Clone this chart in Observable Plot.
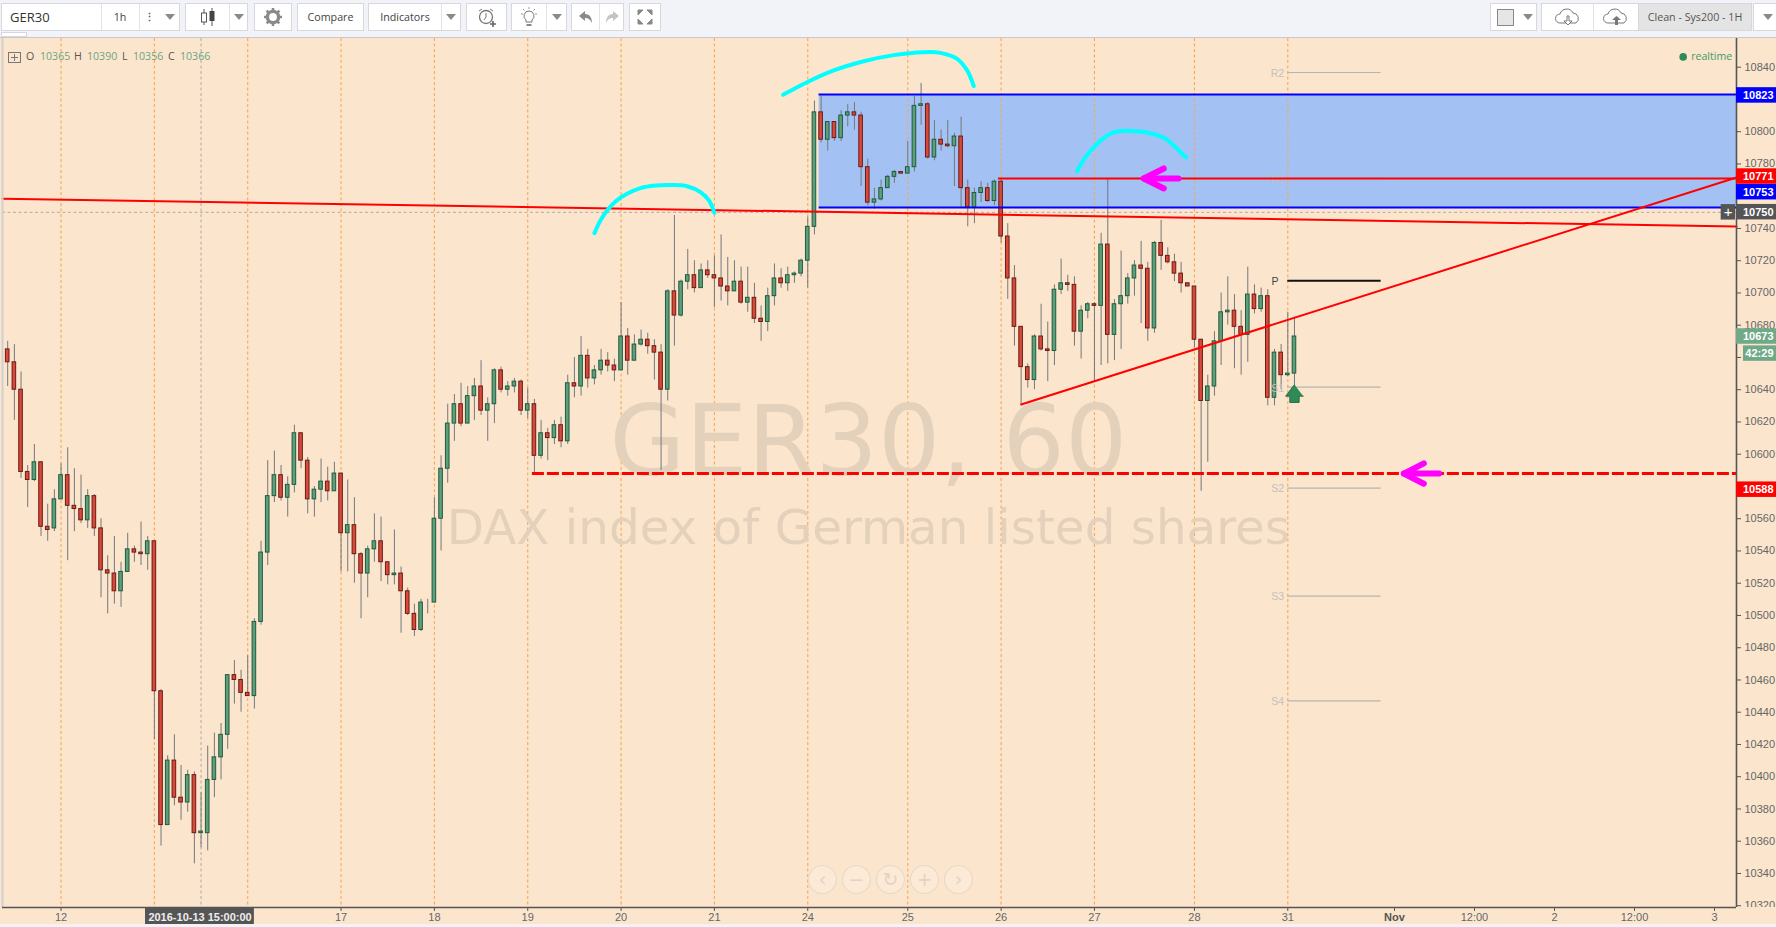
<!DOCTYPE html>
<html><head><meta charset="utf-8">
<script src="https://cdn.jsdelivr.net/npm/d3@7"></script>
<script src="https://cdn.jsdelivr.net/npm/@observablehq/plot@0.6"></script>
<style>
html,body{margin:0;padding:0;background:#f1f3f8;overflow:hidden;width:1776px;height:927px}
#bar{position:relative;height:37px;border-bottom:1px solid #c8cacd;background:#f1f3f8;font:10.7px "Open Sans",sans-serif;color:#444}
.b{position:absolute;top:3px;height:26px;background:#fff;border:1px solid #d6d8db;display:flex;align-items:center;justify-content:center;box-sizing:content-box}
.v{position:absolute;top:0;bottom:0;width:1px;background:#e2e3e5}
.tri{width:0;height:0;border-left:5px solid transparent;border-right:5px solid transparent;border-top:6px solid #8a8a8a}
#wrap{position:relative;width:1776px}
.ov{position:absolute;font:10.6px "Open Sans",sans-serif;white-space:nowrap}
svg.plot{display:block}
</style></head><body>
<div id="bar"></div>
<div id="wrap"></div>
<script>
// OHLC series, one value per hourly bar
const opens=[10665,10657,10640,10589,10584,10595,10555,10554,10572,10587,10568,10566,10559,10574,10554,10528,10526,10515,10527,10541,10539,10538,10546,10453,10370,10410,10387,10384,10401,10365,10365,10398,10412,10426,10463,10460,10452,10450,10496,10539,10574,10587,10573,10581,10613,10596,10572,10578,10583,10577,10588,10551,10556,10538,10526,10541,10546,10533,10525,10526,10515,10501,10491,10508,10508,10560,10591,10619,10631,10619,10636,10642,10627,10631,10652,10640,10642,10645,10627,10631,10599,10613,10610,10618,10608,10644,10642,10661,10647,10652,10658,10655,10652,10673,10658,10668,10671,10667,10663,10640,10701,10686,10707,10711,10703,10714,10711,10709,10704,10701,10707,10694,10697,10684,10682,10698,10709,10706,10711,10712,10720,10741,10812,10795,10806,10796,10810,10812,10810,10778,10756,10758,10765,10772,10775,10774,10778,10816,10817,10784,10795,10792,10791,10797,10765,10753,10762,10765,10757,10769,10735,10709,10679,10654,10646,10673,10665,10664,10702,10706,10705,10676,10689,10693,10692,10730,10674,10693,10698,10709,10717,10715,10678,10731,10723,10719,10712,10706,10704,10671,10633,10642,10670,10688,10689,10679,10674,10699,10690,10698,10635,10663,10649,10650];
const highs=[10670,10668,10651,10593,10606,10595,10569,10578,10594,10604,10591,10587,10578,10575,10560,10537,10549,10533,10551,10543,10558,10549,10546,10454,10413,10426,10407,10404,10403,10390,10419,10427,10433,10463,10472,10466,10475,10498,10546,10596,10602,10593,10586,10618,10613,10598,10580,10597,10592,10595,10588,10584,10573,10539,10543,10563,10561,10533,10553,10530,10517,10507,10510,10510,10573,10599,10631,10637,10644,10642,10647,10658,10635,10653,10654,10645,10647,10646,10641,10634,10621,10616,10621,10623,10649,10660,10673,10665,10655,10665,10663,10659,10694,10678,10674,10677,10675,10671,10668,10702,10748,10708,10727,10720,10718,10720,10723,10736,10722,10720,10716,10716,10706,10692,10703,10718,10715,10716,10713,10721,10747,10819,10822,10806,10806,10813,10817,10818,10812,10783,10765,10770,10773,10776,10775,10794,10822,10830,10818,10807,10801,10807,10799,10809,10770,10765,10769,10768,10770,10771,10743,10717,10679,10656,10674,10693,10682,10705,10721,10711,10710,10692,10694,10694,10737,10771,10696,10726,10712,10720,10732,10719,10732,10745,10728,10724,10719,10706,10704,10671,10649,10676,10700,10710,10699,10689,10716,10705,10703,10702,10665,10668,10688,10685];
const lows=[10642,10621,10585,10567,10583,10549,10546,10552,10572,10534,10552,10557,10554,10549,10511,10501,10507,10505,10527,10533,10531,10528,10423,10357,10370,10382,10373,10378,10346,10356,10354,10387,10398,10417,10445,10440,10450,10442,10494,10531,10570,10571,10561,10576,10591,10563,10561,10570,10571,10577,10527,10527,10520,10498,10511,10533,10521,10519,10519,10489,10500,10487,10490,10501,10508,10540,10582,10608,10617,10619,10621,10624,10608,10619,10638,10636,10638,10624,10622,10588,10597,10596,10606,10604,10606,10635,10636,10641,10643,10649,10651,10645,10652,10649,10658,10667,10662,10646,10590,10633,10667,10685,10702,10700,10703,10709,10691,10695,10692,10701,10693,10688,10681,10670,10676,10692,10703,10701,10706,10710,10703,10736,10793,10788,10794,10794,10803,10801,10766,10754,10752,10757,10765,10768,10774,10774,10775,10804,10783,10782,10788,10790,10766,10753,10741,10743,10756,10756,10754,10731,10696,10667,10631,10641,10640,10664,10645,10655,10699,10701,10667,10659,10684,10645,10655,10656,10658,10665,10693,10698,10681,10670,10675,10714,10718,10707,10700,10704,10666,10577,10595,10636,10655,10680,10653,10649,10657,10687,10688,10630,10630,10640,10648,10643];
const closes=[10657,10640,10589,10584,10595,10555,10553,10572,10587,10568,10566,10559,10574,10554,10528,10526,10515,10527,10541,10539,10538,10546,10453,10370,10410,10387,10384,10401,10365,10366,10398,10412,10426,10463,10460,10452,10450,10496,10539,10574,10587,10573,10581,10613,10596,10572,10578,10583,10577,10588,10551,10556,10538,10526,10541,10546,10533,10525,10526,10515,10501,10491,10508,10508,10560,10591,10619,10631,10619,10636,10642,10627,10631,10652,10640,10642,10645,10627,10631,10599,10613,10610,10618,10608,10644,10642,10661,10647,10652,10658,10655,10652,10673,10658,10668,10671,10667,10663,10640,10701,10686,10707,10711,10703,10714,10711,10709,10704,10701,10707,10694,10697,10684,10682,10698,10709,10706,10711,10712,10720,10741,10812,10795,10806,10796,10810,10812,10810,10778,10756,10758,10765,10772,10775,10774,10778,10816,10817,10784,10795,10792,10791,10797,10765,10753,10762,10765,10757,10769,10735,10709,10679,10654,10646,10673,10665,10664,10702,10706,10705,10676,10689,10693,10692,10730,10674,10693,10698,10709,10717,10715,10678,10731,10723,10719,10712,10706,10704,10671,10633,10642,10670,10688,10689,10679,10674,10699,10690,10698,10635,10663,10649,10650,10673];

// time axis: bar positions and their labels (13 and 14 sit behind the crosshair flag)
const dayBars=[8,22,36,50,64,78,92,106,120,135,149,163,178,192];
const dayLabels=["12","","","17","18","19","20","21","24","25","26","27","28","31"];
const futureBars=[208,220,232,244,256];
const futureLabels=["Nov","12:00","2","12:00","3"];
const crossBar=29, crossPrice=10750, crossLabel="2016-10-13 15:00:00";
const priceTicks=d3.range(10320,10841,20);
const coveredTicks=[10820,10760,10660,10580];

// drawn levels
const boxTop=10823, boxBottom=10753, boxStart=121.7, resistance=10771, resistanceStart=148.6, support=10588, supportStart=78.7;
const flatTrendI=[-0.78,259.3], flatTrendV=[10758.5,10741.2];
const riseTrendI=[152,259.3], riseTrendV=[10630.8,10771.6];
const pivotNames=["R2","R1","P","S1","S2","S3","S4"];
const pivotValues=[10836.7,10771,10707.5,10641.6,10579,10512,10447];

// hand-drawn cyan arcs
const arc1I=[88,88.9,89.9,91.2,92.9,94.9,97.2,99.4,101.9,103.9,105.2,106];
const arc1V=[10737.1,10744.9,10751.1,10756.9,10761.5,10765,10766.6,10766.9,10766.2,10762.5,10757.3,10749.7];
const arc2I=[116.3,119.9,123.9,128.4,132.9,137.4,139.9,142.4,143.9,144.9];
const arc2V=[10822.9,10830.7,10838,10843.7,10847.5,10849.3,10848.9,10845.2,10838,10828.2];
const arc3I=[160.4,161.65,163.15,164.9,166.4,168.4,170.9,173.4,174.9,176.15,176.75];
const arc3V=[10775.5,10784.2,10791.4,10797.6,10800.1,10800.5,10799.5,10796.2,10791.4,10786.3,10784];

// price flags on the right-hand axis
const flagTexts=["10823","10771","10753","10750","10588","10673","42:29"];
const flagCentres=[10822.5,10772.2,10762.5,10750.1,10578,10673,10662.4];
const flagFills=["#0000ff","#ff0000","#0000ff","#555555","#ff0000","#6fa987","#6fa987"];
const flagStarts=[259.3,259.3,259.3,259.3,259.3,259.3,260.35];

const bg="#fce5cd", xEnd=259.3, xEdge=265.3;
const bars=opens.map((o,i)=>({i,o,h:highs[i],l:lows[i],c:closes[i],up:closes[i]>=o}));
const seq=(xs,ys,k)=>xs.map((x,j)=>({x,y:ys[j],k}));
const arcs=[...seq(arc1I,arc1V,"a"),...seq(arc2I,arc2V,"b"),...seq(arc3I,arc3V,"c")];
const arrows=[
  ...seq([173.4,170.4,173.4],[10777.2,10771,10764.8],"a1"),
  ...seq([170.4,175.6],[10771,10771],"a2"),
  ...seq([212.4,209.4,212.4],[10594.3,10588,10581.7],"b1"),
  ...seq([209.4,214.7],[10588,10588],"b2")];
const upArrow=seq([193,191.68,192.3,192.3,193.7,193.7,194.32],[10643.2,10636,10636,10632.1,10632.1,10636,10636],"g");
const navI=[122.2,127.3,132.4,137.5,142.6], navGlyphs=["‹","−","↻","+","›"], navPrice=10336.3;

const axisFont={fontFamily:'"Liberation Sans",Arial,sans-serif',fontSize:11};
const chart=Plot.plot({
  width:1776,height:886,marginTop:0,marginBottom:17,marginLeft:2,marginRight:40,
  style:{background:bg,fontFamily:'"Liberation Sans",Arial,sans-serif',fontSize:"11px",maxWidth:"none"},
  x:{type:"linear",domain:[-0.78,xEnd]},
  y:{type:"linear",domain:[10318.9,10857.8]},
  marks:[
    Plot.rect([0],{x1:boxStart,x2:xEnd,y1:boxBottom,y2:boxTop,fill:"#a3c1f3"}),
    Plot.ruleX(dayBars,{stroke:"#f6a955",strokeDasharray:"3,2.5",strokeWidth:1.1}),
    Plot.ruleX([crossBar],{stroke:"#aaaaaa",strokeDasharray:"3,2.5"}),
    Plot.ruleY([crossPrice],{stroke:"#b3aba0",strokeDasharray:"3,2.5"}),
    Plot.text(["GER30, 60"],{x:129.1,y:10606.8,text:d=>d,fontSize:98,fontFamily:'"DejaVu Sans"',fill:"#e4d1bc"}),
    Plot.text(["DAX index of German listed shares"],{x:129.1,y:10554,text:d=>d,fontSize:48.4,fontFamily:'"DejaVu Sans"',fill:"#e4d1bc"}),
    Plot.ruleX(bars,{x:"i",y1:"l",y2:"h",stroke:"#73777c",strokeWidth:1}),
    Plot.rect(bars,{x1:d=>d.i-0.27,x2:d=>d.i+0.27,y1:"o",y2:"c",fill:d=>d.up?"#5f9e7c":"#d8493a",stroke:d=>d.up?"#1d5c3c":"#6a1b16",strokeWidth:1}),
    Plot.ruleY(pivotValues.filter((_,j)=>pivotNames[j]!=="P"),{x1:192,x2:206,stroke:"#b4b4b4",strokeWidth:1.2}),
    Plot.ruleY(pivotValues.filter((_,j)=>pivotNames[j]==="P"),{x1:192,x2:206,stroke:"#111111",strokeWidth:2}),
    Plot.text(pivotNames,{x:d=>d==="P"?190.6:191.45,y:(_,j)=>pivotValues[j],dy:1,text:d=>d,textAnchor:"end",fontSize:10.5,fill:d=>d==="P"?"#444":"#c4c0bb"}),
    Plot.ruleY([boxTop,boxBottom],{x1:boxStart,x2:xEnd,stroke:"#0000ff",strokeWidth:2}),
    Plot.ruleY([resistance],{x1:resistanceStart,x2:xEnd,stroke:"#ff0000",strokeWidth:2}),
    Plot.line(seq(flatTrendI,flatTrendV,"f"),{x:"x",y:"y",stroke:"#ff0000",strokeWidth:2}),
    Plot.line(seq(riseTrendI,riseTrendV,"r"),{x:"x",y:"y",stroke:"#ff0000",strokeWidth:2}),
    Plot.ruleY([support],{x1:supportStart,x2:xEnd,stroke:"#ff0000",strokeWidth:3,strokeDasharray:"12,3"}),
    Plot.line(arcs,{x:"x",y:"y",z:"k",stroke:"#00ffff",strokeWidth:4,curve:"catmull-rom"}),
    Plot.line(arrows,{x:"x",y:"y",z:"k",stroke:"#ff00ff",strokeWidth:6,strokeLinejoin:"round",strokeLinecap:"round"}),
    Plot.line(upArrow,{x:"x",y:"y",z:"k",fill:"#2e8b57",stroke:"#2a6f4a",strokeWidth:1}),
    Plot.dot(navI,{x:d=>d,y:()=>navPrice,r:14,fill:"#fff",fillOpacity:0.2,stroke:"#e8d8c6",strokeWidth:1.1}),
    Plot.text(navGlyphs,{x:(_,j)=>navI[j],y:()=>navPrice,text:d=>d,fontSize:19,fontFamily:'"DejaVu Sans"',fill:"#e4d3c0"}),
    Plot.axisY(priceTicks,{anchor:"right",tickSize:4,tickPadding:4,tickFormat:d=>coveredTicks.includes(d)?"":d3.format("d")(d),label:null,stroke:"#555",fill:"#666",...axisFont}),
    Plot.rect([0],{x1:xEnd,x2:xEdge,y1:10318.9,y2:10306,fill:bg}),
    Plot.axisX(dayBars,{anchor:"bottom",tickSize:4,tickPadding:2,tickFormat:d=>dayLabels[dayBars.indexOf(d)],label:null,stroke:"#555",fill:"#666",...axisFont}),
    Plot.axisX(futureBars.filter(d=>d!==208),{anchor:"bottom",tickSize:4,tickPadding:2,tickFormat:d=>futureLabels[futureBars.indexOf(d)],label:null,stroke:"#555",fill:"#666",...axisFont}),
    Plot.axisX([208],{anchor:"bottom",tickSize:4,tickPadding:2,tickFormat:()=>futureLabels[0],label:null,stroke:"#555",fill:"#555",fontWeight:"bold",...axisFont}),
    Plot.ruleX([xEnd],{stroke:"#555",strokeWidth:1.6}),
    Plot.ruleX([-0.78],{stroke:"#cfcfcf",strokeWidth:2}),
    Plot.ruleY([10318.9],{stroke:"#555",strokeWidth:1.4,x1:-0.78,x2:xEnd}),
    Plot.rect(flagTexts,{x1:(_,j)=>flagStarts[j],x2:()=>xEdge,y1:(_,j)=>flagCentres[j]-4.8,y2:(_,j)=>flagCentres[j]+4.8,fill:(_,j)=>flagFills[j]}),
    Plot.text(flagTexts,{x:()=>xEdge,dx:-3,y:(_,j)=>flagCentres[j],text:d=>d,textAnchor:"end",fill:"#fff",fontWeight:"bold",...axisFont}),
    Plot.rect([0],{x1:257,x2:xEnd-0.15,y1:crossPrice-4.8,y2:crossPrice+4.8,fill:"#555555"}),
    Plot.text(["+"],{x:258.05,y:crossPrice,text:d=>d,fill:"#fff",fontSize:15}),
    Plot.rect([0],{x1:20.67,x2:37,y1:10318.9,y2:10308,fill:"#555555"}),
    Plot.text([crossLabel],{x:28.85,y:10312.6,text:d=>d,fill:"#eeeeee",fontWeight:"bold",...axisFont}),
    Plot.dot([0],{x:()=>251.3,y:()=>10846.4,r:3.8,fill:"#2e8b57"}),
    Plot.text(["realtime"],{x:()=>252.5,y:()=>10846.6,text:d=>d,textAnchor:"start",fontSize:10.6,fontFamily:'"Open Sans"',fill:"#3f9a68"})
  ]
});
document.getElementById("wrap").appendChild(chart);

// OHLC legend overlay
const legendBits=[["O",26,"#555"],["10365",40,"#6aa583"],["H",74,"#555"],["10390",87,"#6aa583"],["L",122,"#555"],["10356",133,"#6aa583"],["C",168,"#555"],["10366",180,"#6aa583"]];
const wrap=document.getElementById("wrap");
legendBits.forEach(([t,x,c])=>{const s=document.createElement("div");s.className="ov";s.textContent=t;s.style.cssText+=`left:${x}px;top:11px;color:${c}`;wrap.appendChild(s);});
const plus=document.createElement("div");plus.className="ov";
plus.innerHTML='<svg width="13" height="11" style="display:block"><rect x=".5" y=".5" width="12" height="10" fill="none" stroke="#777"/><path d="M3 5.5h7M6.5 2v7" stroke="#777"/></svg>';
plus.style.cssText+="left:8px;top:14px";wrap.appendChild(plus);

// toolbar
const bar=document.getElementById("bar");
const gray="#8a8a8a";
const candleIcon='<svg width="16" height="20"><path d="M4 2v16M12 1v18" stroke="#555"/><rect x="1.5" y="6" width="5" height="9" fill="#fff" stroke="#555"/><rect x="9.5" y="4" width="5" height="10" fill="#444"/></svg>';
const gearIcon=`<svg width="18" height="18" viewBox="0 0 18 18"><circle cx="9" cy="9" r="5.6" fill="none" stroke="${gray}" stroke-width="3.4"/><path d="M9 0v18M0 9h18M2.6 2.6l12.8 12.8M15.4 2.6L2.6 15.4" stroke="${gray}" stroke-width="2.6" stroke-dasharray="2.8 12.4"/></svg>`;
const alarmIcon=`<svg width="22" height="22"><circle cx="10" cy="11" r="6.5" fill="none" stroke="#777" stroke-width="1.3"/><path d="M10 7v4l-2 3M3 5l3-2M17 5l-3-2" stroke="#777" fill="none"/><path d="M17 15v6M14 18h6" stroke="#666" stroke-width="1.6"/></svg>`;
const bulbIcon=`<svg width="20" height="22"><path d="M10 5a5 5 0 0 0-3 9v2h6v-2a5 5 0 0 0-3-9z" fill="none" stroke="#777"/><path d="M7.5 18h5v2h-5z" fill="#888"/><path d="M10 1v2M2 8h2M16 8h2M4 3l1.5 1.5M16 3l-1.5 1.5" stroke="#999"/></svg>`;
const undoIcon=f=>`<svg width="16" height="14"><path d="M1 6l6-5v3c5 0 7 4 7 9-2-4-4-5-7-5v3z" fill="${f}"/></svg>`;
const redoIcon=f=>`<svg width="16" height="14"><path d="M15 6l-6-5v3c-5 0-7 4-7 9 2-4 4-5 7-5v3z" fill="${f}"/></svg>`;
const fullIcon=`<svg width="18" height="18"><path d="M2 2l5 0-5 5zM16 2l-5 0 5 5zM2 16l5 0-5-5zM16 16l-5 0 5-5z" fill="#888" stroke="#888"/></svg>`;
const cloud=(arrow)=>`<svg width="28" height="20"><path d="M6 16a4.5 4.5 0 0 1 0-9 7 7 0 0 1 13-1 5.5 5.5 0 0 1 3 10z" fill="#fff" stroke="#777"/>${arrow}</svg>`;
const tri='<div class="tri"></div>';
const boxes=[
 [1,179,""],[185,63,""],[254,38,gearIcon],[297,67,"Compare"],[368,93,""],[466,41,alarmIcon],[511,56,""],[571,53,""],[629,32,fullIcon],
 [1490,47,""],[1541,98,""],[1639,114,"Clean - Sys200 - 1H"],[1753,30,tri]
];
boxes.forEach(([x,w,h],n)=>{const d=document.createElement("div");d.className="b";d.style.left=x+"px";d.style.width=(w-2)+"px";d.innerHTML=h;d.id="b"+n;bar.appendChild(d);});
const fill=(n,html)=>{const d=document.getElementById("b"+n);d.style.display="block";d.innerHTML=html;};
const cell=(l,w,html,extra="")=>`<div style="position:absolute;left:${l}px;top:0;width:${w}px;height:26px;display:flex;align-items:center;justify-content:center;${extra}">${html}</div>`;
const vl=l=>`<div class="v" style="left:${l}px"></div>`;
fill(0,cell(8,50,'<span style="font-size:13px;color:#333">GER30</span>','justify-content:flex-start')+vl(99)+cell(99,38,"1h")+vl(137)+cell(137,20,'<span style="font-weight:bold;color:#666;line-height:6px;letter-spacing:0">⋮</span>')+cell(157,21,tri));
fill(1,cell(0,43,candleIcon)+vl(43)+cell(43,19,tri));
fill(4,cell(0,72,"Indicators")+vl(72)+cell(72,20,tri));
fill(6,cell(0,34,bulbIcon)+vl(34)+cell(34,21,tri));
fill(7,cell(0,27,undoIcon(gray))+vl(27)+cell(27,25,redoIcon("#c4c4c4")));
fill(9,cell(0,28,'<div style="width:15px;height:15px;background:#e6e6e6;border:1px solid #888"></div>')+cell(28,18,tri));
fill(10,cell(0,51,cloud('<path d="M13 9h2v5h3l-4 4-4-4h3z" fill="#fff" stroke="#777"/>'))+vl(51)+cell(51,46,cloud('<path d="M13 18h3v-5h3l-4.5-4-4.5 4h3z" fill="#777"/>')));
const tag=document.getElementById("b11");tag.style.background="#e4e4e4";tag.style.color="#555";tag.style.borderLeft="none";
const tab=document.createElement("div");tab.style.cssText="position:absolute;left:1px;top:32px;width:26px;height:5px;background:#fff;border:1px solid #d6d8db;box-sizing:border-box";bar.appendChild(tab);
</script>
</body></html>
